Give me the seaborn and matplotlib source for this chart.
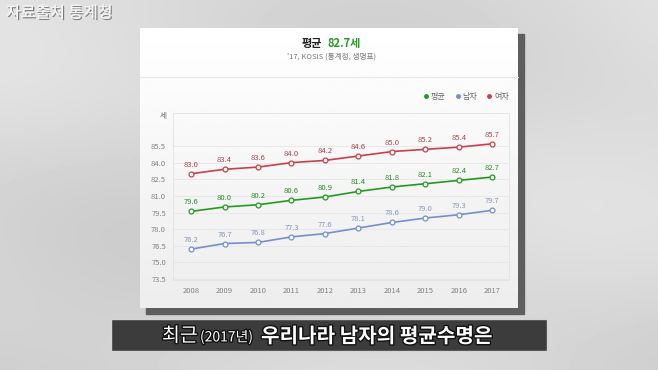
import numpy as np
import pandas as pd
import matplotlib
matplotlib.use("Agg")
import matplotlib.pyplot as plt
import matplotlib.patheffects as pe
from matplotlib.patches import Rectangle
from matplotlib.lines import Line2D
import seaborn as sns

# life expectancy 2008-2017 (KOSIS, 생명표)
years = [2008, 2009, 2010, 2011, 2012, 2013, 2014, 2015, 2016, 2017]
avg_vals = [79.6, 80.0, 80.2, 80.6, 80.9, 81.4, 81.8, 82.1, 82.4, 82.7]
male_vals = [76.2, 76.7, 76.8, 77.3, 77.6, 78.1, 78.6, 79.0, 79.3, 79.7]
female_vals = [83.0, 83.4, 83.6, 84.0, 84.2, 84.6, 85.0, 85.2, 85.4, 85.7]
series_names = ["평균", "남자", "여자"]
y_ticks = [73.5, 75.0, 76.5, 78.0, 79.5, 81.0, 82.5, 84.0, 85.5]

line_colors = {"평균": "#229a22", "남자": "#7390cc", "여자": "#c8404e"}
label_colors = {"평균": "#2a8a2a", "남자": "#8597b8", "여자": "#ad4252"}

df = pd.concat([
    pd.DataFrame({"year": years, "value": vals, "series": name})
    for name, vals in zip(series_names, [avg_vals, male_vals, female_vals])
])

sns.set_style("white")
plt.rcParams["font.family"] = ["Noto Sans CJK KR", "DejaVu Sans"]

W, H = 658, 370
fig = plt.figure(figsize=(W / 100, H / 100), dpi=100)

# background, card and caption bar drawn in pixel coordinates
bg = fig.add_axes([0, 0, 1, 1])
bg.set_xlim(0, W)
bg.set_ylim(H, 0)
bg.axis("off")
gx, gy = np.meshgrid(np.linspace(0, 1, 200), np.linspace(0, 1, 120))
shade = 0.86 - 0.03 * gy + 0.025 * np.cos(5 * gx + 3 * gy) + 0.015 * np.sin(9 * gy - 4 * gx)
bg.imshow(shade, extent=[0, W, H, 0], cmap="gray", vmin=0, vmax=1, aspect="auto")

bg.add_patch(Rectangle((146, 34), 378, 280, color="#5e5e5e", zorder=2))
card = np.linspace(1.0, 0.93, 100).reshape(-1, 1)
bg.imshow(card, extent=[140, 518, 308, 28], cmap="gray", vmin=0, vmax=1,
          aspect="auto", zorder=3)
bg.plot([140, 518], [77, 77], color="#e8e8e8", lw=0.8, zorder=4)

bg.text(322, 43, "평균", ha="right", va="center", fontsize=8, fontweight="bold",
        color="#222222", zorder=5)
bg.text(327, 43, "82.7세", ha="left", va="center", fontsize=8, fontweight="bold",
        color="#2a9a2a", zorder=5)
bg.text(332, 57, "'17, KOSIS (통계청, 생명표)", ha="center", va="center",
        fontsize=5.5, color="#777777", zorder=5)
bg.text(163, 116, "세", ha="center", va="center", fontsize=5.5, color="#666666", zorder=5)

bg.add_patch(Rectangle((111, 319), 436, 32, facecolor="#3c3c3c",
                       edgecolor="#d4d4d4", lw=1, zorder=2))
outline = [pe.withStroke(linewidth=2, foreground="#111111")]
bg.text(162, 336, "최근", ha="left", va="center", fontsize=14, color="white",
        path_effects=outline, zorder=5)
bg.text(200, 337, "(2017년)", ha="left", va="center", fontsize=10, color="white",
        path_effects=outline, zorder=5)
bg.text(261, 336, "우리나라 남자의 평균수명은", ha="left", va="center", fontsize=14.5,
        fontweight="bold", color="white", path_effects=outline, zorder=5)

bg.text(6, 13, "자료출처 통계청", ha="left", va="center", fontsize=11.5,
        color="#f4f4f4", path_effects=[pe.withSimplePatchShadow(offset=(1, -1),
        shadow_rgbFace="#666666", alpha=0.8), pe.Normal()], zorder=5)

# chart
ax = fig.add_axes([173 / W, 1 - 280 / H, 336 / W, 167 / H], zorder=6)
ax.set_facecolor("none")
sns.lineplot(data=df, x="year", y="value", hue="series", palette=line_colors,
             marker="o", markersize=3.5, markerfacecolor="white",
             markeredgewidth=0.9, linewidth=1.2, legend=False, ax=ax)
for line in ax.lines:
    line.set_markeredgecolor(line.get_color())

for name, vals in zip(series_names, [avg_vals, male_vals, female_vals]):
    for x, v in zip(years, vals):
        ax.annotate(f"{v:.1f}", (x, v), xytext=(0, 6.5), textcoords="offset points",
                    ha="center", va="center", fontsize=5.5, color=label_colors[name])

ax.set_xlim(2007.46, 2017.5)
ax.set_ylim(73.41, 88.48)
ax.set_xticks(years)
ax.set_xticklabels([str(y) for y in years])
ax.set_yticks(y_ticks)
ax.set_yticklabels([f"{t:.1f}" for t in y_ticks])
ax.grid(axis="y", color="#e6e6e6", lw=0.6)
ax.tick_params(length=0, labelsize=5.5, labelcolor="#808080", pad=5)
ax.set_xlabel("")
ax.set_ylabel("")
for s in ax.spines.values():
    s.set_color("#e2e2e2")
    s.set_linewidth(0.6)

handles = [Line2D([], [], marker="o", ls="none", markersize=2.5,
                  color=line_colors[n]) for n in series_names]
ax.legend(handles, series_names, loc="lower right", bbox_to_anchor=(1.0, 1.07),
          ncol=3, frameon=False, fontsize=5.8, handletextpad=0.1,
          columnspacing=1.0, handlelength=1.0, borderaxespad=0, borderpad=0,
          labelcolor="#666666")

fig.savefig("out.png", dpi=100)
